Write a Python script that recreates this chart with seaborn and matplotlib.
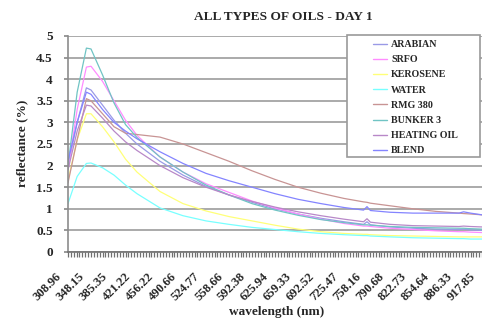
import numpy as np
import pandas as pd
import matplotlib
matplotlib.use("Agg")
import matplotlib.pyplot as plt
from matplotlib.patches import Rectangle
from matplotlib.transforms import ScaledTranslation
from matplotlib.ticker import FixedLocator, FixedFormatter
import seaborn as sns

# Category labels shown along the wavelength axis (nm)
tick_wavelengths = [308.96, 348.15, 385.35, 421.22, 456.22, 490.66, 524.77,
                    558.66, 592.38, 625.94, 659.33, 692.52, 725.47, 758.16,
                    790.68, 822.73, 854.64, 886.33, 917.85]

# Sampled wavelengths (nm) shared by every spectrum
wavelength = [308.96, 324.6, 340.3, 348.15, 366.8, 385.35, 403.3, 421.22,
              456.22, 490.66, 524.77, 558.66, 592.38, 625.94, 659.33, 692.52,
              725.47, 753.3, 758.16, 763.0, 790.68, 822.73, 854.64, 886.33,
              892.6, 902.1, 917.85]

arabian     = [2.00, 3.00, 3.80, 3.75, 3.40, 3.05, 2.75, 2.50, 2.10, 1.78, 1.52,
               1.32, 1.15, 1.00, 0.88, 0.78, 0.70, 0.64, 0.70, 0.63, 0.58, 0.55,
               0.53, 0.52, 0.53, 0.51, 0.50]
srfo        = [1.90, 3.30, 4.28, 4.30, 3.95, 3.50, 3.05, 2.70, 2.20, 1.85, 1.58,
               1.38, 1.18, 1.02, 0.88, 0.76, 0.66, 0.60, 0.60, 0.59, 0.55, 0.52,
               0.49, 0.47, 0.47, 0.46, 0.45]
kerosene    = [1.65, 2.60, 3.20, 3.20, 2.90, 2.55, 2.15, 1.85, 1.40, 1.12, 0.95,
               0.82, 0.72, 0.62, 0.53, 0.47, 0.43, 0.41, 0.41, 0.40, 0.38, 0.37,
               0.36, 0.35, 0.35, 0.35, 0.35]
water       = [1.12, 1.75, 2.05, 2.06, 1.95, 1.78, 1.55, 1.35, 1.02, 0.84, 0.72,
               0.64, 0.57, 0.52, 0.47, 0.43, 0.40, 0.38, 0.38, 0.37, 0.35, 0.33,
               0.32, 0.31, 0.31, 0.30, 0.30]
rmg380      = [1.60, 2.60, 3.55, 3.50, 3.20, 2.90, 2.75, 2.72, 2.66, 2.50, 2.30,
               2.10, 1.88, 1.68, 1.50, 1.36, 1.24, 1.16, 1.15, 1.13, 1.07, 1.00,
               0.94, 0.90, 0.89, 0.88, 0.86]
bunker3     = [2.00, 3.70, 4.72, 4.70, 4.10, 3.45, 2.95, 2.65, 2.20, 1.85, 1.55,
               1.32, 1.12, 0.97, 0.85, 0.75, 0.68, 0.63, 0.63, 0.62, 0.59, 0.57,
               0.56, 0.55, 0.55, 0.54, 0.53]
heating_oil = [1.90, 2.80, 3.40, 3.38, 3.10, 2.80, 2.55, 2.35, 2.00, 1.72, 1.50,
               1.32, 1.17, 1.04, 0.93, 0.84, 0.76, 0.70, 0.77, 0.69, 0.64, 0.61,
               0.60, 0.59, 0.60, 0.59, 0.58]
blend       = [2.10, 3.00, 3.70, 3.65, 3.30, 3.00, 2.80, 2.62, 2.32, 2.05, 1.82,
               1.65, 1.50, 1.35, 1.22, 1.12, 1.03, 0.97, 1.05, 0.96, 0.92, 0.90,
               0.90, 0.90, 0.93, 0.90, 0.86]

series_names = ["ARABIAN", "SRFO", "KEROSENE", "WATER", "RMG 380",
                "BUNKER 3", "HEATING OIL", "BLEND"]
series_values = [arabian, srfo, kerosene, water, rmg380, bunker3,
                 heating_oil, blend]
series_colors = ["#9a9ae6", "#ff8cff", "#ffff78", "#78ffff", "#c89494",
                 "#70c4c4", "#b888c8", "#8484ff"]

df = pd.concat(
    [pd.DataFrame({"wavelength": wavelength, "reflectance": vals, "oil": name})
     for name, vals in zip(series_names, series_values)],
    ignore_index=True,
)

sns.set_theme(style="white")
plt.rcParams["font.family"] = ["Liberation Serif", "DejaVu Serif"]
plt.rcParams["font.weight"] = "bold"

W, H = 482, 324
fig = plt.figure(figsize=(W / 100, H / 100), dpi=100)
ax = fig.add_axes([68 / W, (H - 252) / H, (482 - 68) / W, (252 - 36) / H])

# Category-style axis: equally spaced labelled wavelengths
cat_idx = np.arange(len(tick_wavelengths), dtype=float)


def fwd(x):
    return np.interp(x, tick_wavelengths, cat_idx)


def inv(i):
    return np.interp(i, cat_idx, tick_wavelengths)


ax.set_xscale("function", functions=(fwd, inv))

sns.lineplot(data=df, x="wavelength", y="reflectance", hue="oil",
             hue_order=series_names, palette=dict(zip(series_names, series_colors)),
             estimator=None, sort=False, linewidth=0.9, ax=ax, legend=False)

ax.set_xlim(tick_wavelengths[0], tick_wavelengths[-1])
ax.set_ylim(0, 5)
ax.set_yticks(np.arange(0, 5.01, 0.5))
ax.set_yticklabels(["0", "0.5", "1", "1.5", "2", "2.5", "3", "3.5", "4", "4.5", "5"])

ax.xaxis.set_major_locator(FixedLocator(tick_wavelengths))
ax.xaxis.set_major_formatter(FixedFormatter([f"{w:.2f}" for w in tick_wavelengths]))
ax.xaxis.set_minor_locator(FixedLocator(inv(np.arange(0, 18.001, 1 / 8))))

ax.grid(axis="y", color="#a4a4a4", linewidth=1.3)
ax.grid(axis="x", visible=False)
for side in ("top", "right"):
    ax.spines[side].set_visible(False)
ax.spines["left"].set_color("#8c8c8c")
ax.spines["bottom"].set_color("#707070")
ax.spines["left"].set_linewidth(1.2)
ax.spines["bottom"].set_linewidth(1.2)

ax.tick_params(axis="y", which="major", direction="out", length=3, color="#8c8c8c",
               labelsize=9.5, pad=8, left=True)
ax.tick_params(axis="x", which="both", direction="out", length=3.5, width=0.9,
               color="#707070", bottom=True)
ax.tick_params(axis="x", which="major", labelsize=9, pad=13)

offset = ScaledTranslation(-8 / 100, 0, fig.dpi_scale_trans)
for lab in ax.get_xticklabels():
    lab.set_rotation(45)
    lab.set_rotation_mode("anchor")
    lab.set_ha("right")
    lab.set_va("center")
    lab.set_transform(lab.get_transform() + offset)
for lab in ax.get_yticklabels() + ax.get_xticklabels():
    lab.set_fontweight("bold")

ax.set_xlabel("")
ax.set_ylabel("")
fig.text(277 / W, 1 - 312 / H, "wavelength (nm)", ha="center", va="center",
         fontsize=9.5, fontweight="bold")
fig.text(22 / W, 1 - 143 / H, "reflectance (%)", ha="center", va="center",
         rotation=90, fontsize=9.5, fontweight="bold")
fig.text(283 / W, 1 - 17 / H, "ALL TYPES OF OILS - DAY 1", ha="center",
         va="center", fontsize=9.6, fontweight="bold")

# Legend box
fig.patches.append(Rectangle((347 / W, 1 - 157 / H), 133 / W, 122 / H,
                             transform=fig.transFigure, facecolor="white",
                             edgecolor="#9a9a9a", linewidth=1.2, zorder=3))
handles = [plt.Line2D([], [], color=c, linewidth=1.0) for c in series_colors]
fig.legend(handles, series_names, loc="upper left",
           bbox_to_anchor=(373 / W, 1 - 40 / H), frameon=False,
           prop={"family": "Liberation Serif", "weight": "bold", "size": 7.2},
           handlelength=1.4, handletextpad=0.4, labelspacing=0.62,
           borderpad=0, borderaxespad=0)

fig.savefig("out.png", dpi=100)
